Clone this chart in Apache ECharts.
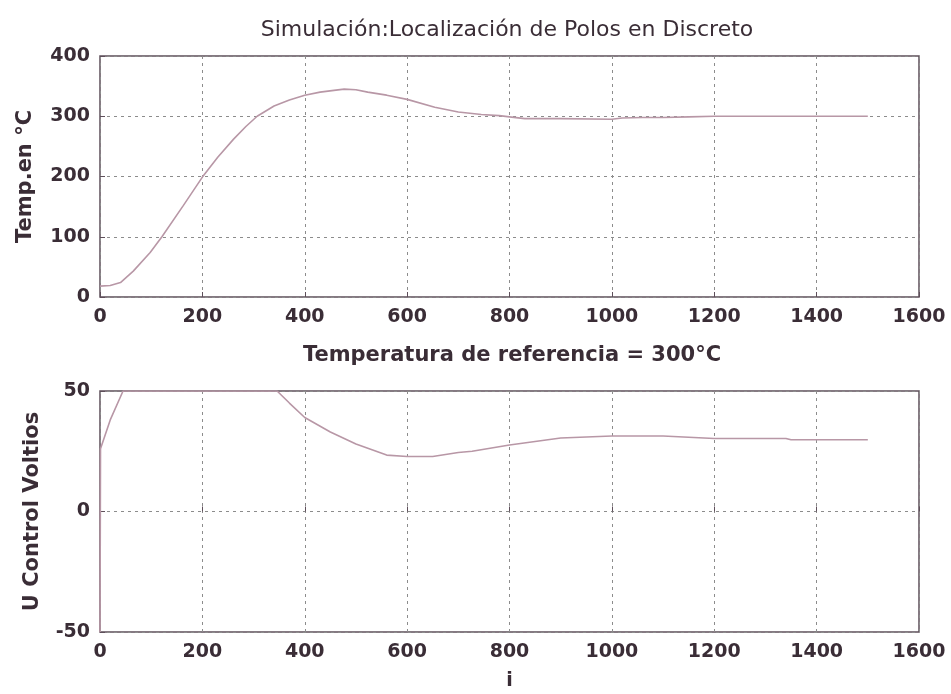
<!DOCTYPE html>
<html>
<head>
<meta charset="utf-8">
<script src="https://cdn.jsdelivr.net/npm/echarts@6/dist/echarts.min.js"></script>
<style>
  html,body{margin:0;padding:0;background:#fff;}
  #main{width:951px;height:694px;}
</style>
</head>
<body>
<div id="main"></div>
<script>
// temperatura (grafico superior)
const tempX=[0,20,40,65,98,121,163,200,230,261,285,307,340,370,400,430,457,477,500,523,560,600,654,700,745,780,800,830,900,1000,1020,1060,1100,1150,1200,1300,1400,1500];
const tempY=[18,19,24,43,74,100,152,199,232,262,283,300,317,327,335,340,343,345,344,340,335,328,315,307,303,301,299,296,296,295,297,298,298,299,300,300,300,300];
// senal de control (grafico inferior)
const uX=[0,1,20,45,100,200,300,346,370,400,450,500,560,600,650,700,727,800,900,1000,1100,1180,1200,1340,1350,1500];
const uY=[-50,26,38,50,50,50,50,50,45,39,33,28,23.4,22.8,22.8,24.5,25,27.6,30.5,31.3,31.3,30.5,30.3,30.3,29.8,29.8];
const xTicks=[0,200,400,600,800,1000,1200,1400,1600];

const textColor='#3a2d36';
const lineColor='#b897a6';
const frameColor='#5e4f5a';

function pairs(xs,ys){
  return xs.map((x,i)=>[x,ys[i]]);
}

const labelStyle={
  color:textColor,
  fontFamily:'DejaVu Sans',
  fontWeight:'bold',
  fontSize:19,
};
const nameStyle=Object.assign({},labelStyle,{fontSize:21});
const splitStyle={
  show:true,
  lineStyle:{color:'#8c8c8c',type:[3,4],width:1}
};

function xAxis(idx,extra){
  return Object.assign({
    type:'value',
    gridIndex:idx,
    min:0,max:1600,interval:200,
    axisLine:{show:false},
    axisTick:{show:true,inside:true,length:5,lineStyle:{color:frameColor}},
    axisLabel:Object.assign({margin:11,formatter:v=>xTicks.includes(v)?String(v):''},labelStyle),
    splitLine:splitStyle,
  },extra||{});
}

const chart=echarts.init(document.getElementById('main'),null,{renderer:'canvas'});
chart.setOption({
  backgroundColor:'#fff',
  animation:false,
  title:[{
    text:'Simulación:Localización de Polos en Discreto',
    left:502,top:14,textAlign:'center',
    textStyle:{color:textColor,fontFamily:'DejaVu Sans',fontWeight:'normal',fontSize:22}
  },{
    text:'Temperatura de referencia = 300°C',
    left:507,top:340,textAlign:'center',
    textStyle:{color:textColor,fontFamily:'DejaVu Sans',fontWeight:'bold',fontSize:21}
  }],
  grid:[
    {left:100,top:56,width:819,height:241,show:true,borderColor:frameColor,borderWidth:1.5,backgroundColor:'#fff'},
    {left:100,top:391,width:819,height:241,show:true,borderColor:frameColor,borderWidth:1.5,backgroundColor:'#fff'}
  ],
  xAxis:[
    xAxis(0),
    xAxis(1,{name:'i',nameLocation:'middle',nameGap:40,nameTextStyle:labelStyle})
  ],
  yAxis:[{
    type:'value',gridIndex:0,min:0,max:400,interval:100,
    name:'Temp.en °C',nameLocation:'middle',nameGap:64,nameTextStyle:nameStyle,
    axisLine:{show:false},
    axisTick:{show:true,inside:true,length:5,lineStyle:{color:frameColor}},
    axisLabel:Object.assign({margin:10},labelStyle),
    splitLine:splitStyle,
  },{
    type:'value',gridIndex:1,min:-50,max:50,interval:50,
    name:'U Control Voltios',nameLocation:'middle',nameGap:57,nameTextStyle:nameStyle,
    axisLine:{show:false},
    axisTick:{show:true,inside:true,length:5,lineStyle:{color:frameColor}},
    axisLabel:Object.assign({margin:10},labelStyle),
    splitLine:splitStyle,
  }],
  series:[{
    type:'line',xAxisIndex:0,yAxisIndex:0,
    data:pairs(tempX,tempY),
    showSymbol:false,
    lineStyle:{color:lineColor,width:1.6},
  },{
    type:'line',xAxisIndex:1,yAxisIndex:1,
    data:pairs(uX,uY),
    showSymbol:false,
    lineStyle:{color:lineColor,width:1.6},
  }]
});
</script>
</body>
</html>
